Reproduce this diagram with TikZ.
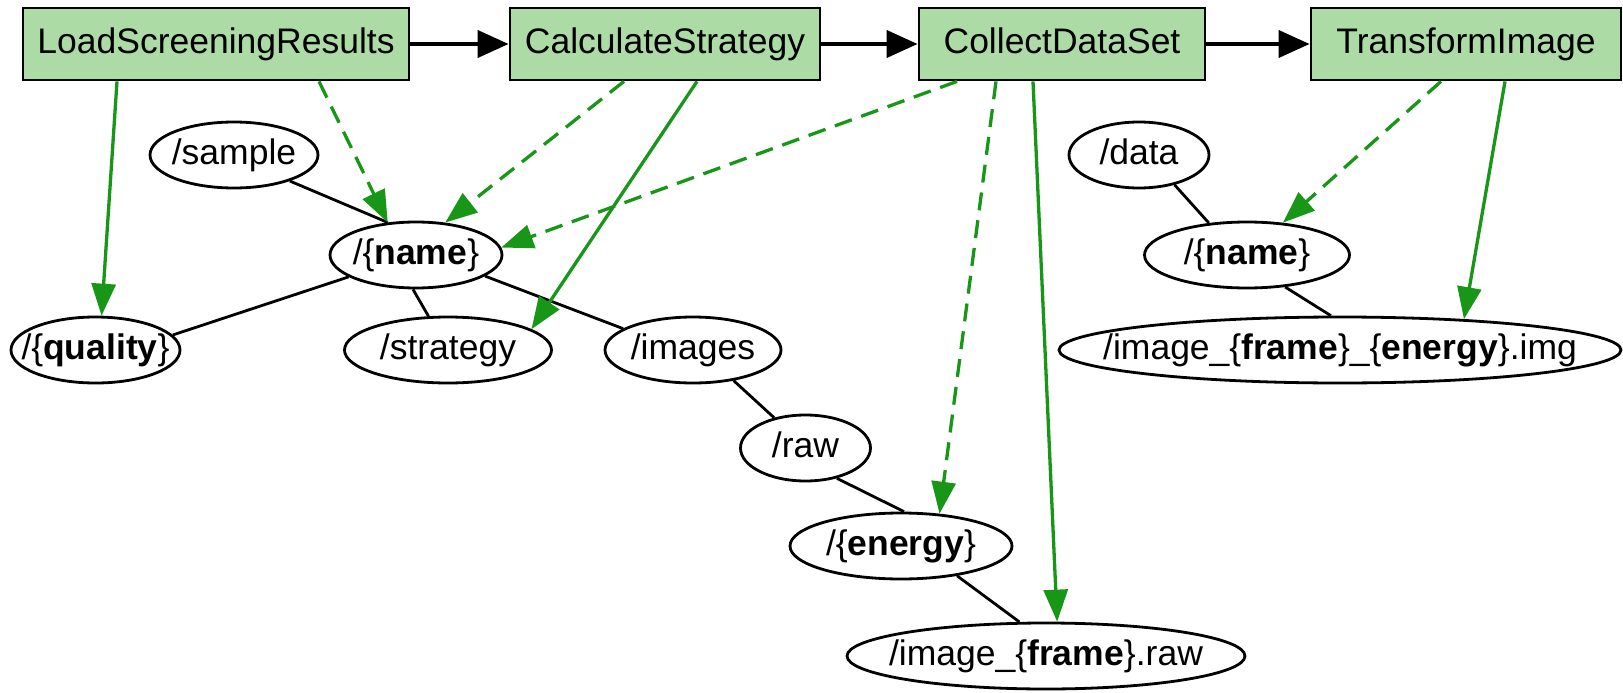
\documentclass[tikz,border=0pt]{standalone}
\usepackage{fontspec}
\setmainfont{Liberation Sans}
\usetikzlibrary{arrows.meta,shapes.geometric}

\definecolor{taskfill}{RGB}{172,219,166}
\definecolor{linkgreen}{RGB}{24,150,24}

% zero-width label so that the ellipse size is set by minimum width/height only
\newcommand{\flatlabel}[1]{\makebox[0pt][c]{#1}}

\begin{document}
\begin{tikzpicture}[x=1pt,y=-1pt,
  task/.style={draw=black, line width=2.8pt, fill=taskfill, rectangle,
    minimum height=72pt, inner sep=0pt, text height=26pt, text depth=7.5pt,
    font=\fontsize{35.5}{42}\selectfont},
  dir/.style={draw=black, line width=2.8pt, ellipse, minimum height=66pt,
    inner sep=0pt, text height=26pt, text depth=7.5pt,
    font=\fontsize{35.5}{42}\selectfont},
  flow/.style={draw=black, line width=4pt, -{Triangle[length=31pt,width=27pt]}},
  uses/.style={draw=linkgreen, line width=3.3pt, -{Triangle[length=32pt,width=24pt]}},
  dep/.style={uses, dash pattern=on 18pt off 10pt},
  tree/.style={draw=black, line width=2.8pt}
]
\useasboundingbox (0,0) rectangle (1623,693);

% pipeline tasks
\node[task, minimum width=386pt] (load)      at (216,44)  {LoadScreeningResults};
\node[task, minimum width=310pt] (calc)      at (665,44)  {CalculateStrategy};
\node[task, minimum width=286pt] (collect)   at (1062,44) {CollectDataSet};
\node[task, minimum width=310pt] (transform) at (1466,44) {TransformImage};

% data tree: /sample
\node[dir, minimum width=168pt] (sample)   at (234,155)  {\flatlabel{/sample}};
\node[dir, minimum width=172pt] (name1)    at (416,255)  {\flatlabel{/\{\textbf{name}\}}};
\node[dir, minimum width=169pt] (quality)  at (95.5,350) {\flatlabel{/\{\textbf{quality}\}}};
\node[dir, minimum width=207pt] (strategy) at (448,350)  {\flatlabel{/strategy}};
\node[dir, minimum width=176pt] (images)   at (693,350)  {\flatlabel{/images}};
\node[dir, minimum width=130pt] (raw)      at (805.5,448) {\flatlabel{/raw}};
\node[dir, minimum width=222pt] (energy)   at (901,546)  {\flatlabel{/\{\textbf{energy}\}}};
\node[dir, minimum width=398pt] (frameraw) at (1046,656) {\flatlabel{/image\_\{\textbf{frame}\}.raw}};

% data tree: /data
\node[dir, minimum width=140pt] (data)  at (1139,155) {\flatlabel{/data}};
\node[dir, minimum width=205pt] (name2) at (1247,255) {\flatlabel{/\{\textbf{name}\}}};
\node[dir, minimum width=562pt] (img)   at (1340,350) {\flatlabel{/image\_\{\textbf{frame}\}\_\{\textbf{energy}\}.img}};

% task order
\draw[flow] (load) -- (calc);
\draw[flow] (calc) -- (collect);
\draw[flow] (collect) -- (transform);

% tree structure
\draw[tree] (sample.-25)  -- (name1.131);
\draw[tree] (name1.198)   -- (quality.11);
\draw[tree] (name1.265)   -- (strategy.120);
\draw[tree] (name1.-17)   -- (images.163);
\draw[tree] (images.-37)  -- (raw.136);
\draw[tree] (raw.-44)     -- (energy.85);
\draw[tree] (energy.-28)  -- (frameraw.128);
\draw[tree] (data.-40)    -- (name2.140);
\draw[tree] (name2.-40)   -- (img.105);

% task inputs (dashed) and outputs (solid)
\draw[uses] ([xshift=-99pt]load.south)      -- (quality.80);
\draw[dep]  ([xshift=103pt]load.south)      -- (name1.131);
\draw[dep]  ([xshift=-41pt]calc.south)      -- (name1.48);
\draw[uses] ([xshift=32pt]calc.south)       -- (strategy.14);
\draw[dep]  ([xshift=-105pt]collect.south)  -- (name1.5);
\draw[dep]  ([xshift=-66pt]collect.south)   -- (energy.40);
\draw[uses] ([xshift=-29pt]collect.south)   -- (frameraw.72);
\draw[dep]  ([xshift=-25pt]transform.south) -- (name2.42);
\draw[uses] ([xshift=39pt]transform.south)  -- (img.14);
\end{tikzpicture}
\end{document}
